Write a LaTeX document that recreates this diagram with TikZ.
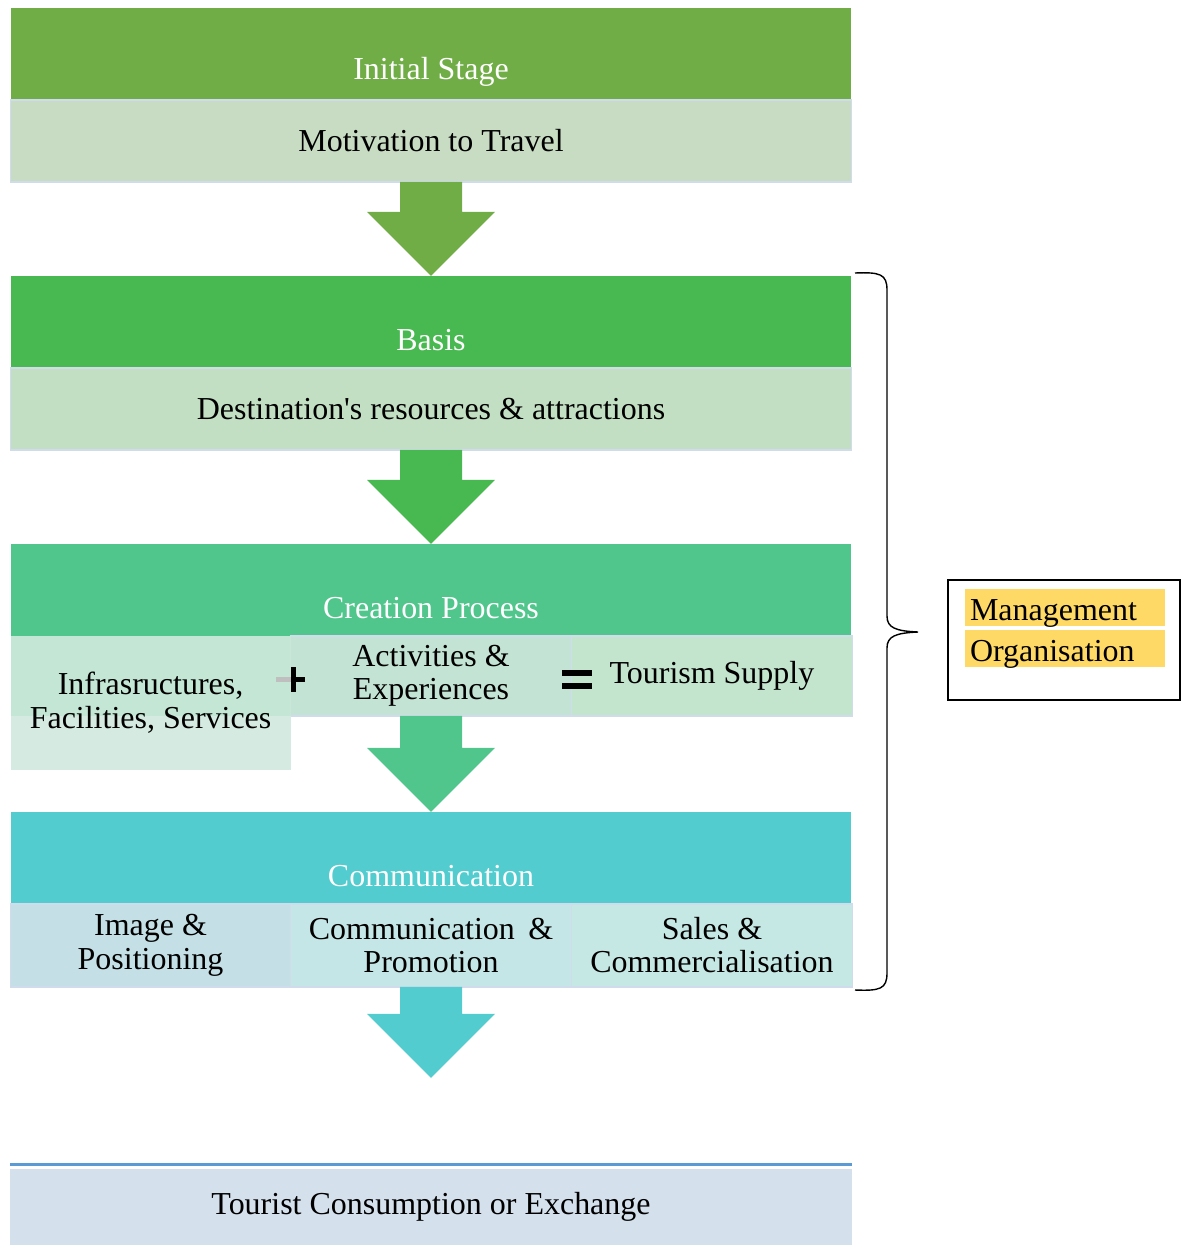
\documentclass[tikz,border=0pt]{standalone}
\usepackage{fontspec}
\setmainfont{Liberation Serif}
\usetikzlibrary{positioning, calc}
\definecolor{stageA}{RGB}{112,173,71}
\definecolor{stageB}{RGB}{71,185,80}
\definecolor{stageC}{RGB}{80,198,140}
\definecolor{stageD}{RGB}{82,204,206}
\definecolor{subA}{RGB}{200,220,195}
\definecolor{subB}{RGB}{195,223,195}
\definecolor{subC}{RGB}{195,228,212}
\definecolor{subCr}{RGB}{195,228,205}
\definecolor{infraTop}{RGB}{195,230,213}
\definecolor{infraLow}{RGB}{213,235,225}
\definecolor{subD1}{RGB}{196,224,230}
\definecolor{subD2}{RGB}{197,230,230}
\definecolor{subD3}{RGB}{198,232,228}
\definecolor{finFill}{RGB}{213,224,237}
\definecolor{finLine}{RGB}{91,155,213}
\definecolor{edge}{RGB}{208,220,236}
\definecolor{hilite}{RGB}{255,217,102}
\newcommand{\boxfont}{\fontsize{18.2pt}{19pt}\selectfont}
\newcommand{\flowarrow}[3]{%
  \fill[#3] ($(#1)+(-31,0)$) -- ($(#1)+(31,0)$) -- ($(#2)+(31,-64)$) -- ($(#2)+(64,-64)$)
    -- (#2) -- ($(#2)+(-64,-64)$) -- ($(#2)+(-31,-64)$) -- cycle;}

\begin{document}
\begin{tikzpicture}[x=0.02cm, y=-0.02cm,
      hd/.style={rectangle, minimum width=16.82cm, minimum height=1.84cm,
                 inner sep=0pt, outer sep=0pt},
      title/.style={text=white, yshift=-0.36cm, font=\boxfont},
      sub/.style={rectangle, draw=edge, line width=0.8pt, minimum width=16.82cm,
                  minimum height=1.64cm, inner sep=0pt, outer sep=0pt,
                  font=\boxfont, align=center},
      cell/.style={sub, minimum width=5.62cm},
      hl/.style={rectangle, fill=hilite, minimum width=4cm, text height=0.62cm,
                 text depth=0.12cm, text width=3.8cm, inner xsep=0.1cm, inner ysep=0pt,
                 outer sep=0pt, align=left, font=\boxfont}
    ]
    \useasboundingbox (0,0) rectangle (1186,1245);

    % stages
    \node[hd, fill=stageA, label={[title]center:Initial Stage}] (h1) at (431,54) {};
    \node[sub, fill=subA, below=0pt of h1] (s1) {Motivation to Travel};
    \node[hd, fill=stageB, below=1.88cm of s1, label={[title]center:Basis}] (h2) {};
    \node[sub, fill=subB, below=0pt of h2] (s2) {Destination\textquotesingle s resources \& attractions};
    \node[hd, fill=stageC, below=1.88cm of s2, label={[title]center:Creation Process}] (h3) {};
    \node[cell, fill=subC, below=0pt of h3, minimum height=1.6cm] (cAct) {Activities \&\\Experiences};
    \node[cell, fill=subCr, right=0pt of cAct, minimum height=1.6cm] (cSup) {Tourism Supply};
    \node[rectangle, fill=infraLow, minimum width=5.6cm, minimum height=2.68cm,
          inner sep=0pt, outer sep=0pt, font=\boxfont, align=center, anchor=north east,
          path picture={\fill[infraTop] (path picture bounding box.north west)
             rectangle ([yshift=1.08cm]path picture bounding box.south east);}]
          (cInfra) at (cAct.north west) {Infrasructures,\\Facilities, Services};
    \node[hd, fill=stageD, below=1.92cm of cAct, label={[title]center:Communication}] (h4) {};
    \node[cell, fill=subD2, below=0pt of h4, minimum height=1.66cm] (cCom) {Communication \,\&\\Promotion};
    \node[cell, fill=subD1, left=0pt of cCom, minimum width=5.6cm, minimum height=1.66cm] (cImg) {Image \&\\Positioning};
    \node[cell, fill=subD3, right=0pt of cCom, minimum height=1.66cm] (cSal) {Sales \&\\Commercialisation};
    \node[rectangle, fill=finFill, minimum width=16.84cm, minimum height=1.54cm,
          inner sep=0pt, outer sep=0pt, font=\boxfont, below=3.64cm of cCom] (fin)
          {Tourist Consumption or Exchange};
    \draw[finLine, line width=0.07cm] ($(fin.north west)+(0,-4.5)$) -- ($(fin.north east)+(0,-4.5)$);

    % plus and equals
    \fill[black!25] ($(cAct.west)+(-15,1)$) rectangle ($(cAct.west)+(0,6)$);
    \fill[black] ($(cAct.west)+(0,1)$) rectangle ($(cAct.west)+(14,6)$);
    \fill[black] ($(cAct.west)+(0,-9)$) rectangle ($(cAct.west)+(5,16)$);
    \fill[black] ($(cSup.west)+(-9,-6)$) rectangle ($(cSup.west)+(21,0)$);
    \fill[black] ($(cSup.west)+(-9,7)$) rectangle ($(cSup.west)+(21,13)$);

    % arrows
    \coordinate (a4) at ($(cCom.south)+(0,91)$);
    \flowarrow{s1.south}{h2.north}{stageA}
    \flowarrow{s2.south}{h3.north}{stageB}
    \flowarrow{cAct.south}{h4.north}{stageC}
    \flowarrow{cCom.south}{a4}{stageD}

    % management
    \draw[line width=0.8pt] (855,273) .. controls (880,272) and (887,274) .. (887,290)
      -- (887,616) .. controls (887,628) and (896,631) .. (918,632)
      .. controls (896,633) and (887,636) .. (887,648)
      -- (887,973) .. controls (887,989) and (880,991) .. (855,990);
    \node[rectangle, draw=black, line width=0.8pt, minimum width=4.64cm,
          minimum height=2.4cm] (mgmt) at (1064,640) {};
    \node[hl, anchor=north] (mgA) at ($(mgmt.north)+(1,10)$) {Management};
    \node[hl, below=0.08cm of mgA] (mgB) {Organisation};
  \end{tikzpicture}
\end{document}
